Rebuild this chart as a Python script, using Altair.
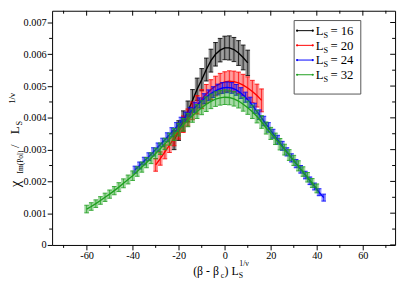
import altair as alt
import pandas as pd

# ---------------- data ----------------
L_SIZES = [16, 20, 24, 32]
COLORS = ["#000000", "#ff0000", "#0000ff", "#1f9f1f"]

x16 = [-22, -20, -18, -16, -14, -12, -10, -8, -6, -4, -2, 0, 2, 4, 6, 8, 10]
y16 = [0.00330, 0.00360, 0.00390, 0.00420, 0.00455, 0.00490, 0.00520, 0.00552, 0.00580,
       0.00600, 0.00613, 0.00620, 0.00620, 0.00615, 0.00604, 0.00590, 0.00573]
e16 = [0.00030, 0.00031, 0.00032, 0.00033, 0.00034, 0.00035, 0.00035, 0.00036, 0.00036,
       0.00037, 0.00037, 0.00037, 0.00038, 0.00038, 0.00039, 0.00039, 0.00040]

x20 = [-30, -28, -26, -24, -22, -20, -18, -16, -14, -12, -10, -8, -6, -4, -2, 0,
       2, 4, 6, 8, 10, 12, 14, 16]
y20 = [0.00252, 0.00272, 0.00293, 0.00314, 0.00336, 0.00358, 0.00380, 0.00401, 0.00422,
       0.00441, 0.00459, 0.00475, 0.00489, 0.00500, 0.00508, 0.00513, 0.00515, 0.00514,
       0.00510, 0.00503, 0.00494, 0.00483, 0.00470, 0.00455]
e20 = [0.00020, 0.00021, 0.00022, 0.00023, 0.00024, 0.00025, 0.00026, 0.00027, 0.00028,
       0.00029, 0.00030, 0.00030, 0.00031, 0.00031, 0.00032, 0.00032, 0.00033, 0.00033,
       0.00034, 0.00034, 0.00035, 0.00035, 0.00036, 0.00036]

x24 = [-39, -37, -35, -33, -31, -29, -27, -25, -23, -21, -19, -17, -15, -13, -11, -9,
       -7, -5, -3, -1, 1, 3, 5, 7, 9, 11, 13, 15, 17, 19, 21, 23, 25, 27, 29, 31, 33,
       35, 37, 39, 41, 43]
y24 = [0.00237, 0.00250, 0.00264, 0.00278, 0.00293, 0.00308, 0.00323, 0.00339, 0.00355,
       0.00371, 0.00387, 0.00403, 0.00418, 0.00433, 0.00447, 0.00460, 0.00471, 0.00481,
       0.00489, 0.00494, 0.00496, 0.00494, 0.00488, 0.00478, 0.00465, 0.00449, 0.00430,
       0.00410, 0.00390, 0.00370, 0.00350, 0.00331, 0.00312, 0.00293, 0.00274, 0.00256,
       0.00238, 0.00220, 0.00202, 0.00184, 0.00166, 0.00149]
e24 = [0.00011, 0.00011, 0.00012, 0.00012, 0.00013, 0.00013, 0.00013, 0.00014, 0.00014,
       0.00014, 0.00015, 0.00015, 0.00015, 0.00016, 0.00016, 0.00016, 0.00017, 0.00017,
       0.00017, 0.00017, 0.00017, 0.00017, 0.00017, 0.00017, 0.00016, 0.00016, 0.00016,
       0.00015, 0.00015, 0.00015, 0.00014, 0.00014, 0.00014, 0.00013, 0.00013, 0.00013,
       0.00012, 0.00012, 0.00012, 0.00011, 0.00011, 0.00011]

x32 = [-60, -58, -56, -54, -52, -50, -48, -46, -44, -42, -40, -38, -36, -34, -32, -30,
       -28, -26, -24, -22, -20, -18, -16, -14, -12, -10, -8, -6, -4, -2, 0, 2, 4, 6, 8,
       10, 12, 14, 16, 18, 20, 22, 24, 26, 28, 30, 32, 34, 36, 38, 40]
y32 = [0.00113, 0.00121, 0.00130, 0.00140, 0.00150, 0.00160, 0.00171, 0.00182, 0.00194,
       0.00206, 0.00218, 0.00231, 0.00245, 0.00259, 0.00273, 0.00288, 0.00303, 0.00318,
       0.00333, 0.00348, 0.00363, 0.00378, 0.00393, 0.00407, 0.00420, 0.00432, 0.00443,
       0.00452, 0.00459, 0.00463, 0.00465, 0.00464, 0.00460, 0.00453, 0.00443, 0.00432,
       0.00419, 0.00404, 0.00387, 0.00368, 0.00351, 0.00334, 0.00317, 0.00300, 0.00283,
       0.00266, 0.00249, 0.00231, 0.00213, 0.00195, 0.00178]
e32 = [0.00012, 0.00012, 0.00012, 0.00012, 0.00013, 0.00013, 0.00013, 0.00014, 0.00014,
       0.00014, 0.00015, 0.00015, 0.00016, 0.00016, 0.00017, 0.00017, 0.00018, 0.00018,
       0.00019, 0.00019, 0.00020, 0.00020, 0.00021, 0.00021, 0.00022, 0.00022, 0.00023,
       0.00023, 0.00023, 0.00023, 0.00023, 0.00023, 0.00023, 0.00022, 0.00022, 0.00021,
       0.00021, 0.00020, 0.00020, 0.00019, 0.00019, 0.00018, 0.00018, 0.00017, 0.00017,
       0.00016, 0.00016, 0.00015, 0.00015, 0.00014, 0.00014]

SERIES = [(x16, y16, e16), (x20, y20, e20), (x24, y24, e24), (x32, y32, e32)]

X_MAJOR = [-60, -40, -20, 0, 20, 40, 60]
X_MINOR = [-70, -50, -30, -10, 10, 30, 50, 70]
Y_MAJOR = [0, 0.001, 0.002, 0.003, 0.004, 0.005, 0.006, 0.007]
Y_MINOR = [0.0005, 0.0015, 0.0025, 0.0035, 0.0045, 0.0055, 0.0065]

X_DOMAIN = [-75, 74]
Y_DOMAIN = [0, 0.00737]

W, H = 350, 239
FONT = "Liberation Serif"

# ---------------- helpers ----------------
xaxis = alt.Axis(values=X_MAJOR, tickSize=5, labelPadding=1, domain=False, grid=False,
                 title=None, labelFont=FONT, labelFontSize=10.5, labelColor="black",
                 tickColor="black",
                 labelExpr="datum.value < 0 ? '-' + abs(datum.value) : '' + datum.value")
yaxis = alt.Axis(values=Y_MAJOR, tickSize=5, labelPadding=1, domain=False, grid=False,
                 title=None, labelFont=FONT, labelFontSize=10.5, labelColor="black",
                 tickColor="black",
                 labelExpr="datum.value == 0 ? '0' : format(datum.value, '.3f')")
xscale = alt.Scale(domain=X_DOMAIN, nice=False, zero=False)
yscale = alt.Scale(domain=Y_DOMAIN, nice=False, zero=False)


def X(f):
    return alt.X(f, type="quantitative", scale=xscale, axis=xaxis)


def Y(f):
    return alt.Y(f, type="quantitative", scale=yscale, axis=yaxis)


one = pd.DataFrame({"a": [0]})


def txt(s, px, py, size, angle=0):
    # px, py are page pixel positions; plot origin sits at (53, 8)
    return alt.Chart(one).mark_text(
        text=s, fontSize=size, angle=angle, align="left", baseline="alphabetic",
        font=FONT, color="black"
    ).encode(x=alt.value(px - 53), y=alt.value(py - 8))


layers = []

# ---------------- data series ----------------
for (xs, ys, es), col in zip(SERIES, COLORS):
    df = pd.DataFrame({"x": xs, "y": ys, "e": es})
    df["lo"] = df["y"] - df["e"]
    df["hi"] = df["y"] + df["e"]
    df["xl"] = df["x"] - 1.0
    df["xr"] = df["x"] + 1.0
    base = alt.Chart(df)
    # light fill between neighbouring error bars
    layers.append(base.mark_rect(color=col, opacity=0.42).encode(
        x=X("xl"), x2=alt.X2("xr"), y=Y("lo"), y2=alt.Y2("hi")))
    # the error bars themselves
    layers.append(base.mark_rule(color=col, opacity=0.75, strokeWidth=1).encode(
        x=X("x"), y=Y("lo"), y2=alt.Y2("hi")))
    # caps
    layers.append(base.mark_rule(color=col, opacity=0.85, strokeWidth=1).encode(
        x=X("xl"), x2=alt.X2("xr"), y=Y("lo")))
    layers.append(base.mark_rule(color=col, opacity=0.85, strokeWidth=1).encode(
        x=X("xl"), x2=alt.X2("xr"), y=Y("hi")))
    # central curve
    layers.append(base.mark_line(color=col, strokeWidth=1.4).encode(x=X("x"), y=Y("y")))

# ---------------- extra ticks ----------------
ymaj = alt.Chart(pd.DataFrame({"v": Y_MAJOR}))
ymin = alt.Chart(pd.DataFrame({"v": Y_MINOR}))
xmaj = alt.Chart(pd.DataFrame({"v": X_MAJOR}))
xmin = alt.Chart(pd.DataFrame({"v": X_MINOR}))
tk = dict(color="black", strokeWidth=1)
layers += [
    ymin.mark_rule(**tk).encode(y=Y("v"), x=alt.value(-3), x2=alt.value(0)),
    ymaj.mark_rule(**tk).encode(y=Y("v"), x=alt.value(W - 5), x2=alt.value(W)),
    ymin.mark_rule(**tk).encode(y=Y("v"), x=alt.value(W - 3), x2=alt.value(W)),
    xmin.mark_rule(**tk).encode(x=X("v"), y=alt.value(H), y2=alt.value(H + 3)),
    xmaj.mark_rule(**tk).encode(x=X("v"), y=alt.value(0), y2=alt.value(5)),
    xmin.mark_rule(**tk).encode(x=X("v"), y=alt.value(0), y2=alt.value(3)),
]

# ---------------- legend ----------------
layers.append(alt.Chart(one).mark_rect(fill="white", stroke="#555555", strokeWidth=1).encode(
    x=alt.value(300 - 53), x2=alt.value(368 - 53), y=alt.value(18 - 8), y2=alt.value(93 - 8)))
for i, (L, col) in enumerate(zip(L_SIZES, COLORS)):
    ly = 28.3 + 15 * i
    layers.append(alt.Chart(one).mark_rule(color=col, strokeWidth=1).encode(
        x=alt.value(303 - 53), x2=alt.value(319 - 53), y=alt.value(ly - 8)))
    for px in (303, 319):
        layers.append(alt.Chart(one).mark_circle(color=col, size=5, opacity=1).encode(
            x=alt.value(px - 53), y=alt.value(ly - 8)))
    layers.append(txt("L", 322, ly + 4.5, 13))
    layers.append(txt("S", 330, ly + 7.5, 8.5))
    layers.append(txt("= %d" % L, 337, ly + 4.5, 13))

# ---------------- axis titles ----------------
layers += [
    txt("(\u03b2 - \u03b2", 197, 278, 12),
    txt("c", 225, 281, 8),
    txt(") L", 229, 278, 12),
    txt("S", 243.5, 281, 8),
    txt("1/\u03bd", 244, 268, 8),
    txt("\u03c7", 20, 188, 15, 270),
    txt("Im(Pol)", 23, 174, 7.5, 270),
    txt("/", 19.5, 148, 13, 270),
    txt("L", 19.5, 134, 13, 270),
    txt("S", 22.5, 125, 8.5, 270),
    txt("1/\u03bd", 15, 103, 9, 270),
]

chart = alt.layer(*layers).properties(
    width=W, height=H,
    autosize=alt.AutoSizeParams(type="none"),
    padding={"left": 45, "top": 0, "right": 4, "bottom": 36},
    background="white",
).configure_view(stroke="black", strokeWidth=1)

chart.save("out.html", embed_options={"renderer": "svg", "actions": False})
